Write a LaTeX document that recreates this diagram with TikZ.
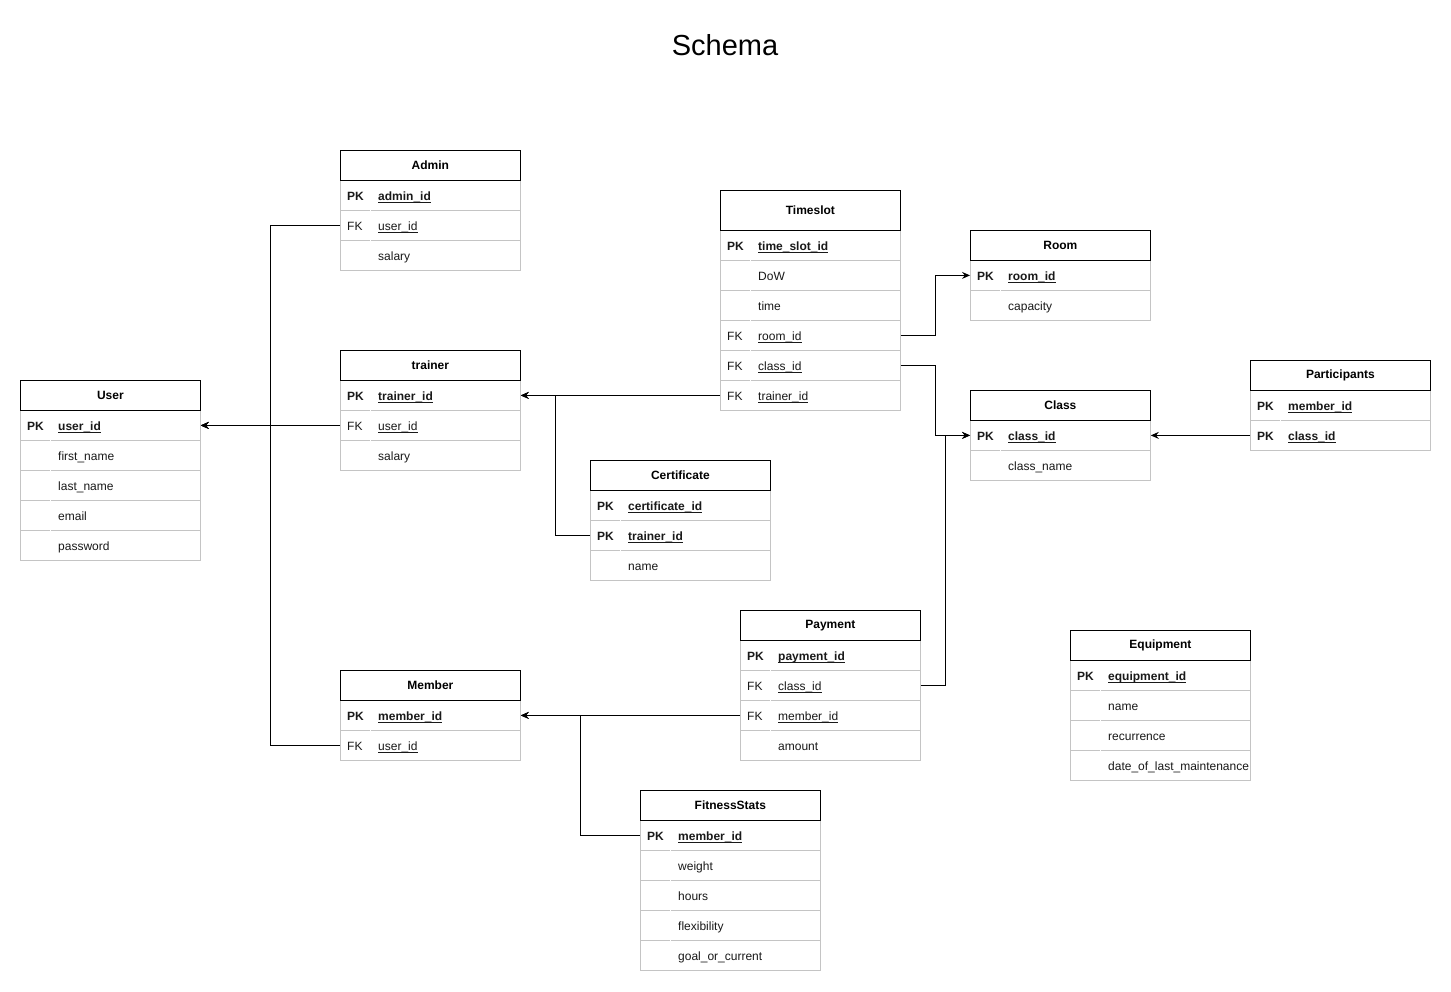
\documentclass[tikz,border=0pt]{standalone}
\usepackage{fontspec}
\setmainfont{Liberation Sans}
\usetikzlibrary{arrows.meta,calc}
\newcommand{\ulname}[1]{\setbox0=\hbox{#1}\rlap{\rule[-2.3pt]{\wd0}{0.8pt}}\box0}
\newcommand{\upk}[1]{\ulname{#1}}
\newcommand{\ufk}[1]{\ulname{#1}}
\newcommand{\upl}[1]{#1}
\tikzset{
 rowbox/.style={draw=black!23, line width=0.8pt, minimum width=180pt, minimum height=30pt, inner sep=0pt, anchor=north west},
 hdrbox/.style={draw=black, line width=0.8pt, minimum width=180pt, inner sep=0pt, anchor=north west, font=\bfseries\fontsize{12}{14}\selectfont},
 kpk/.style={font=\bfseries\fontsize{12}{14}\selectfont},
 kfk/.style={font=\fontsize{12}{14}\selectfont},
 kpl/.style={font=\fontsize{12}{14}\selectfont},
 npk/.style={font=\bfseries\fontsize{12}{14}\selectfont},
 nfk/.style={font=\fontsize{12}{14}\selectfont},
 npl/.style={font=\fontsize{12}{14}\selectfont},
 txt/.style={inner sep=0pt, anchor=base west, text=black!90},
 conn/.style={draw=black, line width=1pt, -{Stealth[length=8pt,width=7pt,inset=2.8pt]}},
}
\newcommand{\ertable}[6]{%
 \foreach \k/\n/\s [count=\i] in {#6} {
   \pgfmathsetmacro{\ry}{#3+#4+(\i-1)*30}
   \node[rowbox] (#1-\i) at (#2,\ry) {};
   \draw[white, line width=1pt] ($(#1-\i.north west)+(30,-0.6)$) -- ($(#1-\i.north west)+(30,0.6)$);
   \node[txt, k\s] (#1-\i-k) at ($(#1-\i.west)+(7,4.8)$) {\k};
   \node[txt, n\s] (#1-\i-n) at ($(#1-\i.west)+(38,4.8)$) {\csname u\s\endcsname{\n}};
 }
 \node[hdrbox, minimum height=#4pt] (#1) at (#2,#3) {#5};
}
\begin{document}
\begin{tikzpicture}[x=1pt, y=-1pt]
\useasboundingbox[fill=white] (0,0) rectangle (1451,991);
\node[font=\fontsize{29}{34}\selectfont] (title) at (725,45) {Schema};

\ertable{admin}{340}{150}{30}{Admin}{PK/admin\_id/pk,FK/user\_id/fk,/salary/pl}
\ertable{timeslot}{720}{190}{40}{Timeslot}{PK/time\_slot\_id/pk,/DoW/pl,/time/pl,FK/room\_id/fk,FK/class\_id/fk,FK/trainer\_id/fk}
\ertable{room}{970}{230}{30}{Room}{PK/room\_id/pk,/capacity/pl}
\ertable{trainer}{340}{350}{30}{trainer}{PK/trainer\_id/pk,FK/user\_id/fk,/salary/pl}
\ertable{user}{20}{380}{30}{User}{PK/user\_id/pk,/first\_name/pl,/last\_name/pl,/email/pl,/password/pl}
\ertable{participants}{1250}{360}{30}{Participants}{PK/member\_id/pk,PK/class\_id/pk}
\ertable{class}{970}{390}{30}{Class}{PK/class\_id/pk,/class\_name/pl}
\ertable{certificate}{590}{460}{30}{Certificate}{PK/certificate\_id/pk,PK/trainer\_id/pk,/name/pl}
\ertable{payment}{740}{610}{30}{Payment}{PK/payment\_id/pk,FK/class\_id/fk,FK/member\_id/fk,/amount/pl}
\ertable{equipment}{1070}{630}{30}{Equipment}{PK/equipment\_id/pk,/name/pl,/recurrence/pl,/date\_of\_last\_maintenance/pl}
\ertable{member}{340}{670}{30}{Member}{PK/member\_id/pk,FK/user\_id/fk}
\ertable{fitness}{640}{790}{30}{FitnessStats}{PK/member\_id/pk,/weight/pl,/hours/pl,/flexibility/pl,/goal\_or\_current/pl}

\draw[conn] (admin-2.west) -- ++(-70,0) |- (user-1.east);
\draw[conn] (trainer-2.west) -- (user-1.east);
\draw[conn] (member-2.west) -- ++(-70,0) |- (user-1.east);
\draw[conn] (timeslot-6.west) -- (trainer-1.east);
\draw[conn] (certificate-2.west) -- ++(-35,0) |- (trainer-1.east);
\draw[conn] (timeslot-4.east) -- ++(35,0) |- (room-1.west);
\draw[conn] (timeslot-5.east) -- ++(35,0) |- (class-1.west);
\draw[conn] (payment-2.east) -- ++(25,0) |- (class-1.west);
\draw[conn] (participants-2.west) -- (class-1.east);
\draw[conn] (payment-3.west) -- (member-1.east);
\draw[conn] (fitness-1.west) -- ++(-60,0) |- (member-1.east);
\end{tikzpicture}
\end{document}
